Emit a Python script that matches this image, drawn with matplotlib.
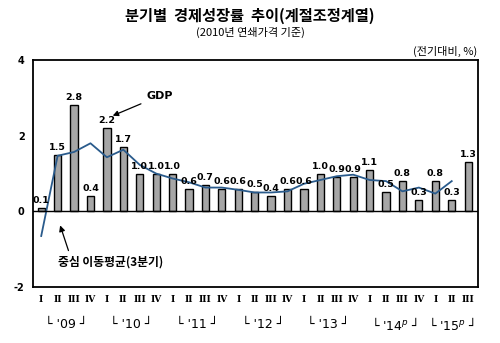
import matplotlib
matplotlib.use("Agg")
import matplotlib.pyplot as plt
import matplotlib.transforms as mtransforms

plt.rcParams['font.family'] = ['Noto Sans CJK KR', 'DejaVu Sans']

# quarterly GDP growth, 2009 Q1 .. 2015 Q3 (q/q, %)
growth = [0.1, 1.5, 2.8, 0.4, 2.2, 1.7, 1.0, 1.0, 1.0, 0.6, 0.7, 0.6, 0.6, 0.5,
          0.4, 0.6, 0.6, 1.0, 0.9, 0.9, 1.1, 0.5, 0.8, 0.3, 0.8, 0.3, 1.3]
# 3-quarter centred moving average
moving_avg = [-0.65, 1.47, 1.57, 1.8, 1.43, 1.63, 1.23, 1.0, 0.87, 0.77, 0.63, 0.63,
              0.57, 0.5, 0.5, 0.53, 0.73, 0.83, 0.93, 0.97, 0.83, 0.8, 0.53, 0.63,
              0.47, 0.8]
quarter_names = ['I', 'II', 'III', 'IV']
years = ["'09", "'10", "'11", "'12", "'13", "'14$^{p}$", "'15$^{p}$"]

n = len(growth)
xs = list(range(n))
qlabels = [quarter_names[i % 4] for i in xs]

fig = plt.figure(figsize=(5, 3.43), dpi=100)
ax = fig.add_axes([0.066, 0.163, 0.89, 0.662])

ax.bar(xs, growth, width=0.44, color='#a6a6a6', edgecolor='black', linewidth=1.0, zorder=2)
ax.plot(range(len(moving_avg)), moving_avg, color='#2a5b8c', linewidth=1.3, zorder=3)
ax.axhline(0, color='black', linewidth=1.0, zorder=4)

for x, v in zip(xs, growth):
    ax.text(x, v + 0.08, f"{v:.1f}", ha='center', va='bottom', fontsize=6.8,
            fontweight='bold', family='DejaVu Sans', zorder=5)

ax.set_xlim(-0.5, 26.6)
ax.set_ylim(-2, 4)
ax.set_yticks([-2, 0, 2, 4])
ax.set_yticklabels(['-2', '0', '2', '4'], fontsize=7, fontweight='bold', family='DejaVu Sans')
ax.set_xticks(xs)
ax.set_xticklabels(qlabels, fontsize=6.5, fontweight='bold', family='DejaVu Serif')
ax.tick_params(length=0, pad=6)
for s in ax.spines.values():
    s.set_linewidth(1.3)

trans = mtransforms.blended_transform_factory(ax.transData, ax.transAxes)
for i, y in enumerate(years):
    nq = 4 if i < len(years) - 1 else 3
    cx = i * 4 + (nq - 1) / 2
    ax.text(cx, -0.165, "\u2514 " + y + " \u2518", transform=trans, ha='center',
            va='center', fontsize=9, family='DejaVu Sans')

ax.annotate('GDP', xy=(4.2, 2.5), xytext=(6.4, 3.05), fontsize=8, fontweight='bold',
            family='DejaVu Sans', ha='left', va='center',
            arrowprops=dict(arrowstyle='-|>', color='black', lw=0.9))
ax.annotate('중심 이동평균(3분기)', xy=(1.1, -0.3), xytext=(1.0, -1.35), fontsize=8.5,
            fontweight='bold', ha='left', va='center',
            arrowprops=dict(arrowstyle='-|>', color='black', lw=0.9, relpos=(0.12, 1.0)))

fig.text(0.5, 0.955, '분기별  경제성장률  추이(계절조정계열)', ha='center', va='center',
         fontsize=11, fontweight='bold')
fig.text(0.5, 0.905, '(2010년 연쇄가격 기준)', ha='center', va='center', fontsize=8)
fig.text(0.955, 0.85, '(전기대비, %)', ha='right', va='center', fontsize=8)

fig.savefig('out.png', dpi=100)
